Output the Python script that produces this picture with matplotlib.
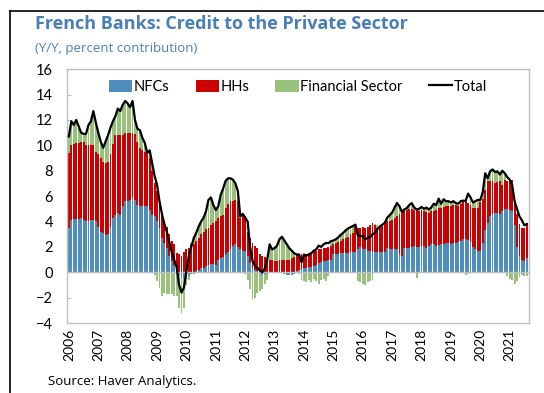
import numpy as np
import matplotlib
matplotlib.use("Agg")
import matplotlib.pyplot as plt
from matplotlib.lines import Line2D

# monthly data, 2006-01 .. 2021-08 (percent contribution, y/y)
years = list(range(2006, 2022))

nfc = [3.5, 4.1, 4.2, 4.2, 4.2, 4.3, 4.1, 4.0, 4.0, 4.1, 4.1, 4.0,
       3.6, 3.2, 3.1, 2.9, 3.0, 3.6, 4.3, 4.5, 4.7, 4.5, 5.2, 5.6,
       5.6, 5.7, 5.9, 5.7, 5.3, 5.2, 5.2, 5.2, 5.2, 4.9, 4.5, 4.4,
       4.0, 3.5, 2.7, 2.3, 1.9, 1.3, 0.9, 0.6, 0.1, -0.2, -0.45, -0.5,
       -0.55, -0.3, -0.15, -0.1, 0.1, 0.2, 0.3, 0.35, 0.5, 0.6, 0.65, 0.65,
       0.6, 1.0, 1.1, 1.2, 1.4, 1.6, 1.8, 2.05, 2.2, 2.0, 1.8, 1.7,
       1.65, 1.25, 0.75, 0.35, 0.2, 0.1, -0.05, -0.2, -0.15, -0.1, -0.05, -0.05,
       0.0, -0.05, -0.05, -0.05, -0.1, -0.2, -0.2, -0.2, -0.1, 0.1, 0.15, 0.2,
       0.3, 0.35, 0.4, 0.45, 0.5, 0.6, 0.7, 0.8, 0.85, 0.9, 0.95, 1.0,
       1.4, 1.4, 1.4, 1.5, 1.5, 1.5, 1.5, 1.6, 1.6, 1.6, 1.8, 2.0,
       1.85, 1.85, 1.65, 1.65, 1.6, 1.6, 1.6, 1.6, 1.6, 1.6, 1.9, 1.8,
       1.85, 1.85, 1.8, 1.4, 1.3, 1.9, 1.9, 1.95, 2.0, 2.05, 2.0, 2.0,
       2.05, 2.05, 1.95, 2.1, 2.2, 2.2, 2.1, 2.15, 2.2, 2.25, 2.3, 2.3,
       2.25, 2.3, 2.3, 2.35, 2.45, 2.6, 2.6, 2.55, 2.4, 2.0, 1.8, 1.7,
       1.65, 2.3, 3.3, 3.9, 4.4, 4.6, 4.7, 4.7, 4.6, 4.8, 5.0, 4.95,
       4.9, 4.8, 3.7, 2.0, 1.25, 1.0, 0.85, 1.1]

hhs = [5.9, 5.9, 5.9, 6.0, 6.0, 6.0, 6.2, 6.0, 6.0, 5.9, 5.9, 5.5,
       5.7, 5.8, 5.6, 5.7, 5.7, 5.7, 5.8, 6.3, 6.1, 6.3, 5.6, 5.4,
       5.4, 5.3, 5.1, 5.2, 5.0, 4.6, 4.4, 4.3, 4.2, 4.1, 3.5, 2.6,
       2.4, 2.0, 1.8, 1.7, 1.7, 1.7, 1.6, 1.6, 1.4, 1.4, 1.3, 1.6,
       1.8, 1.9, 2.2, 2.2, 2.35, 2.5, 2.7, 2.85, 2.9, 2.9, 3.1, 3.2,
       3.4, 3.3, 3.3, 3.3, 3.7, 3.8, 3.8, 3.55, 3.5, 3.6, 2.5, 2.8,
       2.75, 1.95, 1.95, 1.95, 1.85, 1.8, 1.4, 1.25, 1.2, 1.1, 1.0, 0.95,
       0.9, 0.9, 1.0, 1.0, 1.0, 1.0, 1.0, 1.1, 1.2, 1.3, 1.3, 1.25,
       1.05, 1.05, 1.1, 1.15, 1.15, 1.1, 1.1, 1.05, 1.05, 1.05, 1.05, 1.05,
       0.8, 0.9, 1.0, 1.0, 1.1, 1.2, 1.3, 1.4, 1.5, 2.0, 1.7, 1.5,
       1.75, 1.65, 1.95, 2.05, 2.3, 2.1, 1.9, 2.0, 2.1, 2.3, 2.1, 2.25,
       2.3, 2.45, 2.6, 3.2, 3.4, 2.9, 3.0, 3.05, 3.0, 2.85, 2.9, 2.85,
       2.85, 2.75, 2.8, 2.6, 2.6, 2.65, 2.8, 2.95, 2.9, 2.9, 2.9, 2.95,
       3.0, 3.0, 3.0, 2.9, 2.95, 2.95, 2.9, 2.9, 2.9, 3.1, 3.25, 3.4,
       3.85, 3.5, 3.2, 3.3, 2.8, 2.6, 2.3, 2.4, 2.6, 2.1, 2.3, 2.25,
       2.3, 2.5, 1.9, 2.6, 2.55, 2.5, 2.65, 2.8]

fin = [1.3, 1.9, 1.5, 1.8, 1.3, 0.7, 0.6, 0.9, 1.6, 1.9, 2.7, 2.3,
       1.7, 1.3, 1.1, 1.7, 2.1, 2.1, 1.8, 1.5, 2.1, 1.9, 2.4, 2.5,
       2.3, 2.0, 2.5, 1.1, 1.0, 1.4, 1.0, 0.7, 0.1, 0.6, 0.6, -0.2,
       -0.7, -1.2, -1.9, -1.6, -1.7, -1.7, -1.7, -1.9, -1.9, -2.6, -2.75, -2.3,
       -0.45, -0.3, 0.1, 0.6, 0.65, 0.9, 1.0, 1.1, 1.4, 2.2, 2.15, 1.45,
       0.9, 0.9, 1.7, 2.1, 2.1, 2.0, 1.8, 1.7, 1.3, 0.8, 0.2, 0.2,
       -0.1, -0.6, -1.3, -2.1, -2.0, -1.6, -1.4, -1.1, -0.8, -0.5, 1.2, 0.85,
       1.0, 1.2, 1.6, 1.8, 1.5, 1.2, 0.9, 0.6, 0.3, 0.0, -0.1, -0.6,
       -0.7, -0.8, -0.6, -0.8, -0.5, -0.7, -0.9, -0.6, -0.5, -0.7, -0.3, 0.35,
       0.3, 0.3, 0.35, 0.45, 0.5, 0.6, 0.65, 0.55, 0.55, 0.15, -0.7, -0.8,
       -0.9, -1.0, -0.8, -0.7, -0.6, 0.1, 0.2, 0.1, 0.1, 0.1, 0.3, 0.45,
       0.55, 0.8, 1.05, 0.6, 0.05, 0.15, 0.15, 0.3, 0.45, 0.2, -0.45, 0.15,
       0.25, 0.2, 0.35, 0.25, 0.3, 0.55, 0.4, 0.7, 0.3, 0.6, 0.4, 0.35,
       0.25, 0.3, 0.15, 0.15, 0.2, 0.1, -0.2, -0.15, 0.6, 0.4, 0.55, 0.6,
       0.2, 0.5, 1.3, 0.2, 0.75, 0.9, 0.9, 0.85, 0.5, 1.1, 0.5, -0.3,
       -0.5, -0.6, -0.9, -0.7, -0.4, -0.2, -0.3, -0.3]

total = [10.7, 11.9, 11.6, 12.0, 11.5, 11.0, 10.9, 10.9, 11.6, 11.9, 12.7, 11.8,
         11.0, 10.3, 9.8, 10.3, 10.8, 11.4, 11.9, 12.3, 12.9, 12.7, 13.2, 13.5,
         13.3, 13.0, 13.5, 12.0, 11.3, 11.2, 10.6, 10.2, 9.4, 9.6, 8.6, 7.6,
         6.9, 5.6, 4.6, 3.8, 3.2, 2.4, 1.6, 1.0, 0.4, -1.0, -1.6, -1.2,
         0.1, 1.3, 2.0, 2.7, 3.1, 3.6, 4.0, 4.3, 4.8, 5.7, 5.9, 5.3,
         4.9, 5.2, 6.1, 6.6, 7.2, 7.4, 7.4, 7.3, 7.0, 6.4, 4.4, 4.6,
         4.3, 4.0, 2.0, 0.9, 0.5, 0.35, 0.15, 0.0, 0.3, 1.0, 2.2, 1.8,
         1.9, 2.1, 2.6, 2.8, 2.5, 2.2, 1.9, 1.7, 1.5, 1.4, 1.4, 0.8,
         1.4, 1.3, 1.4, 1.5, 1.7, 1.8, 2.1, 2.0, 2.2, 2.3, 2.3, 2.45,
         2.5, 2.6, 2.75, 2.95, 3.1, 3.3, 3.45, 3.55, 3.65, 3.75, 2.9, 2.85,
         2.85, 2.6, 2.7, 2.75, 3.0, 3.1, 3.4, 3.6, 3.75, 3.9, 4.3, 4.5,
         4.7, 5.1, 5.45, 5.2, 4.75, 4.95, 5.05, 5.3, 5.45, 5.1, 4.95, 5.0,
         5.15, 5.0, 5.1, 4.95, 5.1, 5.4, 5.3, 5.8, 5.4, 5.75, 5.6, 5.6,
         5.5, 5.6, 5.45, 5.4, 5.6, 5.65, 5.6, 6.2, 5.9, 5.5, 5.6, 5.7,
         5.7, 6.3, 7.8, 7.4, 7.95, 8.1, 7.9, 7.95, 7.7, 8.0, 7.8, 7.5,
         7.3, 6.9, 5.6, 5.0, 4.4, 4.1, 3.7, 3.8]

blue = "#4f8dbd"
red = "#cc0000"
green = "#98c27c"
title_col = "#4a7fb5"

x = np.arange(len(nfc))

fig = plt.figure(figsize=(5.44, 3.93), dpi=100)
ax = fig.add_axes([0.123, 0.178, 0.849, 0.646])

# excel style stacking: positives go up, negatives go down
pos = np.zeros(len(x))
neg = np.zeros(len(x))
handles = []
for vals, col, lab in [(nfc, blue, "NFCs"), (hhs, red, "HHs"), (fin, green, "Financial Sector")]:
    v = np.array(vals)
    bottom = np.where(v >= 0, pos, neg)
    b = ax.bar(x, v, bottom=bottom, width=0.78, color=col, label=lab, linewidth=0, zorder=2)
    handles.append(b)
    pos = pos + np.where(v >= 0, v, 0)
    neg = neg + np.where(v < 0, v, 0)

ln, = ax.plot(x, total, color="black", lw=1.6, label="Total", zorder=4)
handles.append(ln)
ax.axhline(0, color="#bfbfbf", lw=1, zorder=3)

ax.set_xlim(-0.8, 187.8)
ax.set_ylim(-4, 16)
ax.set_yticks(range(-4, 17, 2))
ax.set_xticks([12 * k for k in range(len(years))])
ax.set_xticklabels([str(y) for y in years], rotation=90, fontsize=10, family="Lato")
for lbl in ax.get_yticklabels():
    lbl.set_family("Lato")
    lbl.set_fontsize(10.5)
ax.tick_params(axis="x", length=0, pad=4)
ax.tick_params(axis="y", direction="in", length=3, color="#bfbfbf", pad=10)
for s in ax.spines.values():
    s.set_color("#bfbfbf")
    s.set_linewidth(1)

ax.legend(handles=handles, labels=["NFCs", "HHs", "Financial Sector", "Total"],
          loc="upper center", ncol=4, frameon=False, prop={"family": "Lato", "size": 10.5},
          handlelength=1.6, handleheight=0.9, handletextpad=0.1, columnspacing=1.8,
          bbox_to_anchor=(0.5, 1.01))

fig.text(0.064, 0.925, "French Banks: Credit to the Private Sector", color=title_col,
         fontsize=13, fontweight="bold", family="Open Sans", va="baseline")
fig.text(0.064, 0.868, "(Y/Y, percent contribution)", color=title_col,
         fontsize=9.5, family="Open Sans", va="baseline")
fig.text(0.088, 0.02, "Source: Haver Analytics.", color="black",
         fontsize=9.5, family="Open Sans", va="baseline")

# outer frame (left and top edges visible)
fig.add_artist(Line2D([10 / 544, 10 / 544], [0, 1 - 11 / 393], color="black", lw=1.2, transform=fig.transFigure))
fig.add_artist(Line2D([10 / 544, 1], [1 - 11 / 393, 1 - 11 / 393], color="black", lw=1.2, transform=fig.transFigure))

fig.savefig("out.png", dpi=100)
